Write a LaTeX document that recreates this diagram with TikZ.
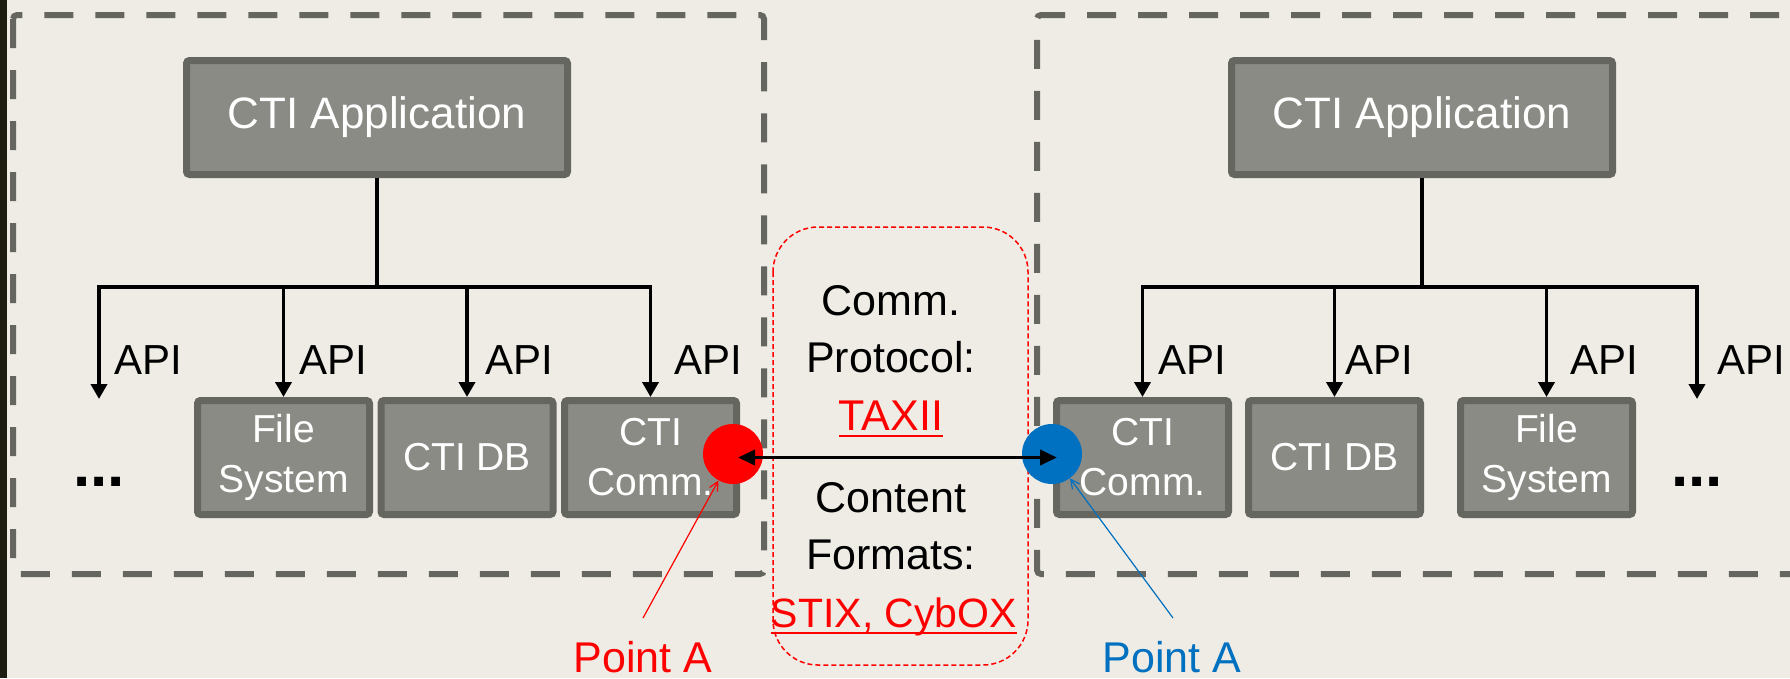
\documentclass[tikz,border=0pt]{standalone}
\usepackage{fontspec}
\setmainfont{Liberation Sans}
\usetikzlibrary{arrows.meta}
\definecolor{bg}{HTML}{EEECE4}
\definecolor{boxfill}{HTML}{8B8B85}
\definecolor{boxline}{HTML}{666660}
\definecolor{strip}{HTML}{1D1D12}
\definecolor{ptblue}{HTML}{0070C0}
\definecolor{ptred}{HTML}{FF0000}
\newcommand{\myul}[1]{\setbox0\hbox{#1}\rlap{\rule[-7pt]{\wd0}{2pt}}\box0}
\begin{document}
\begin{tikzpicture}[x=1pt,y=-1pt,
  comp/.style={draw=boxline, fill=boxfill, line width=7pt, rounded corners=3pt, text=white, align=center,
    minimum width=172pt, minimum height=114pt, inner sep=0pt, font=\fontsize{39}{50}\selectfont},
  app/.style={comp, minimum width=381pt, font=\fontsize{44}{50}\selectfont},
  region/.style={draw=boxline, line width=6pt, dash pattern=on 29pt off 22pt, rounded corners=4pt},
  link/.style={line width=3.8pt, -{Triangle[length=15pt,width=16pt]}},
  trunk/.style={line width=3.8pt},
  apilabel/.style={anchor=base west, inner sep=0pt, font=\fontsize{42}{50}\selectfont},
  dots/.style={font=\fontsize{62}{62}\selectfont\bfseries, inner sep=0pt},
  midtext/.style={anchor=base, inner sep=0pt, font=\fontsize{43}{57}\selectfont},
  ptlabel/.style={anchor=base, inner sep=0pt, font=\fontsize{43}{50}\selectfont},
  endpoint/.style={circle, inner sep=0pt, minimum size=60pt},
  pointer/.style={line width=1.2pt, -{Straight Barb[length=9pt,width=9pt]}},
  dbl/.style={line width=3.8pt, {Triangle[length=17pt,width=15pt]}-{Triangle[length=17pt,width=15pt]}}
  ]
\useasboundingbox (0,0) rectangle (1790,678);
\fill[bg] (0,0) rectangle (1790,678);
\fill[strip] (0,0) rectangle (7,678);

% organisation regions
\draw[region] (13,15) rectangle (764,574);
\draw[region] (1830,15) -- (1037,15) -- (1037,574) -- (1830,574);

% exchange box
\draw[ptred, line width=1.5pt, dash pattern=on 5pt off 3pt, rounded corners=45pt] (773,227) rectangle (1028,665);

% applications
\node[app] (app1) at (377,117.5) {CTI Application};
\node[app] (app2) at (1422,117.5) {CTI Application};

% components
\node[comp] (fs1) at (283.5,457.5) {File\\System};
\node[comp] (db1) at (467,457.5) {CTI DB};
\node[comp] (cm1) at (650.5,457.5) {CTI\\Comm.};
\node[comp] (cm2) at (1142.5,457.5) {CTI\\Comm.};
\node[comp] (db2) at (1334.5,457.5) {CTI DB};
\node[comp] (fs2) at (1546.5,457.5) {File\\System};

\node[dots] (dots1) at (99,482) {...};
\node[dots] (dots2) at (1697,482) {...};
\coordinate (dd1) at (99,399);
\coordinate (dd2) at (1697,399);

% API tree left
\coordinate (bar1) at (377,287);
\draw[trunk] (app1.south) -- (bar1);
\draw[link] (bar1) -| (dd1);
\draw[link] (bar1) -| (fs1.north);
\draw[link] (bar1) -| (db1.north);
\draw[link] (bar1) -| (cm1.north);

% API tree right
\coordinate (bar2) at (1422,287);
\draw[trunk] (app2.south) -- (bar2);
\draw[link] (bar2) -| (cm2.north);
\draw[link] (bar2) -| (db2.north);
\draw[link] (bar2) -| (fs2.north);
\draw[link] (bar2) -| (dd2);

% API labels
\node[apilabel] (api1) at (114,374) {API};
\node[apilabel] (api2) at (299,374) {API};
\node[apilabel] (api3) at (485,374) {API};
\node[apilabel] (api4) at (674,374) {API};
\node[apilabel] (api5) at (1158,374) {API};
\node[apilabel] (api6) at (1345,374) {API};
\node[apilabel] (api7) at (1570,374) {API};
\node[apilabel] (api8) at (1717,374) {API};

% middle text
\node[midtext] (m1) at (891,315) {Comm.};
\node[midtext] (m2) at (891,372) {Protocol:};
\node[midtext, text=ptred] (m3) at (891,430) {\myul{TAXII}};
\node[midtext] (m4) at (891,512) {Content};
\node[midtext] (m5) at (891,569) {Formats:};
\node[midtext, text=ptred, font=\fontsize{41}{57}\selectfont] (m6) at (894,627) {\myul{STIX, CybOX}};

% end points
\node[endpoint, fill=ptred] (rp) at (733,454) {};
\node[endpoint, fill=ptblue] (bp) at (1052,454) {};
\coordinate (ra) at (738,457.5);
\coordinate (ba) at (1057,457.5);
\draw[dbl] (ra) -- (ba);

% point labels
\node[ptlabel, text=ptred] (pa1) at (643,672) {Point A};
\node[ptlabel, text=ptblue] (pa2) at (1172,672) {Point A};
\coordinate (pa1t) at (643,618);
\coordinate (pa2t) at (1173,618);
\draw[pointer, ptred] (pa1t) -- (rp);
\draw[pointer, ptblue] (pa2t) -- (bp);
\end{tikzpicture}
\end{document}
